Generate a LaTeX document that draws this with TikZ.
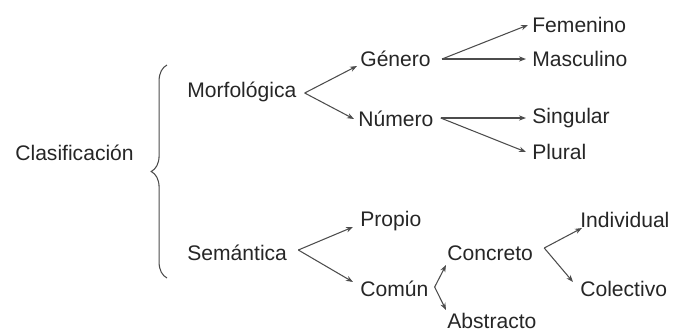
\documentclass[tikz,border=0pt]{standalone}
\usepackage{fontspec}
\setmainfont{Liberation Sans}
\usetikzlibrary{arrows.meta,decorations.pathreplacing,calc}

\begin{document}
\begin{tikzpicture}[x=0.02cm, y=-0.02cm,
    term/.style={font=\fontsize{12}{14}\selectfont, text=black!85, inner sep=0pt, anchor=west},
    branch/.style={black!70, line width=0.6pt, -{Stealth[length=4pt,width=3pt]}},
    fork/.style={black!70, line width=0.6pt}
]
\useasboundingbox (0,0) rectangle (681,332);

% Root and brace
\node[term] (clas) at (15,153) {Clasificación};
\draw[fork, decorate, decoration={brace, amplitude=9pt}] (167,278) -- (167,65);

% First level
\node[term] (morf) at (187,92) {Morfológica};
\node[term] (sem) at (187,253) {Semántica};

% Morfologica
\node[term] (gen) at (360,59) {Género};
\node[term] (num) at (358,119) {Número};
\coordinate (vmorf) at ($(morf.east)+(8,1)$);
\draw[branch] (vmorf) -- ($(gen.west)+(-3,7)$);
\draw[branch] (vmorf) -- ($(num.west)+(-4,0)$);

% Genero
\node[term] (fem) at (532,25) {Femenino};
\node[term] (masc) at (532,59) {Masculino};
\coordinate (vgen) at ($(gen.east)+(11,0)$);
\draw[branch] (vgen) -- ($(fem.west)+(-4,0)$);
\draw[branch] (vgen) -- ($(masc.west)+(-6,0)$);

% Numero
\node[term] (sing) at (532,118) {Singular};
\node[term] (plur) at (532,152) {Plural};
\coordinate (vnum) at ($(num.east)+(7,-1)$);
\draw[branch] (vnum) -- ($(sing.west)+(-6,0)$);
\draw[branch] (vnum) -- ($(plur.west)+(-6,0)$);

% Semantica
\node[term] (prop) at (360,221) {Propio};
\node[term] (com) at (360,289) {Común};
\coordinate (vsem) at ($(sem.east)+(11,-3)$);
\draw[branch] (vsem) -- ($(prop.west)+(-7,6)$);
\draw[branch] (vsem) -- ($(com.west)+(-7,-7)$);

% Comun
\node[term] (conc) at (447,253) {Concreto};
\node[term] (abst) at (447,321) {Abstracto};
\coordinate (vcom) at ($(com.east)+(6,-2)$);
\draw[branch] (vcom) -- ($(conc.west)+(-1,12)$);
\draw[branch] (vcom) -- ($(abst.west)+(-1,-11)$);

% Concreto
\node[term] (ind) at (580,220) {Individual};
\node[term] (col) at (580,289) {Colectivo};
\coordinate (vconc) at ($(conc.east)+(11,-5)$);
\draw[branch] (vconc) -- ($(ind.west)+(2,8)$);
\draw[branch] (vconc) -- ($(col.west)+(-7,-7)$);

\end{tikzpicture}
\end{document}
